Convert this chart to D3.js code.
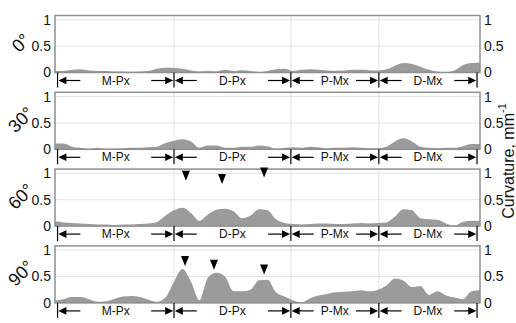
<!DOCTYPE html>
<html>
<head>
<meta charset="utf-8">
<script src="https://cdn.jsdelivr.net/npm/d3@7/dist/d3.min.js"></script>
<style>
  html, body { margin: 0; padding: 0; background: #fff; }
  svg { display: block; font-family: "Liberation Sans", Arial, sans-serif; }
</style>
</head>
<body>
<svg id="chart" width="516" height="323"></svg>
<script>
// ---------- data ----------
const positions = [0,2,4,6,8,10,12,14,16,18,20,22,24,26,28,30,32,34,36,38,40,42,44,46,48,50,52,54,56,58,60,62,64,66,68,70,72,74,76,78,80,82,84,86,88,90,92,94,96,98,100];

const curv0 = [0.03,0.03,0.05,0.06,0.04,0.03,0.03,0.02,0.02,0.015,0.02,0.03,0.07,0.09,0.085,0.07,0.04,0.02,0.03,0.02,0.05,0.03,0.045,0.03,0.01,0.03,0.06,0.07,0.03,0.05,0.06,0.05,0.04,0.035,0.04,0.05,0.05,0.045,0.04,0.06,0.13,0.18,0.16,0.11,0.05,0.02,0.01,0.04,0.14,0.18,0.19];
const curv30 = [0.11,0.11,0.05,0.03,0.01,0.03,0.01,0.01,0.02,0.03,0.03,0.04,0.05,0.12,0.16,0.19,0.15,0.03,0.07,0.07,0.03,0.03,0.05,0.05,0.07,0.06,0.01,0.03,0.04,0.03,0.05,0.04,0.02,0.03,0.03,0.04,0.03,0.02,0.02,0.05,0.15,0.21,0.15,0.05,0.03,0.02,0.03,0.03,0.06,0.1,0.1];
const curv60 = [0.09,0.07,0.06,0.05,0.04,0.03,0.03,0.02,0.03,0.03,0.04,0.05,0.08,0.2,0.3,0.35,0.25,0.1,0.22,0.31,0.33,0.28,0.15,0.2,0.32,0.3,0.13,0.06,0.04,0.03,0.04,0.05,0.05,0.04,0.04,0.05,0.06,0.05,0.06,0.07,0.18,0.32,0.3,0.15,0.13,0.12,0.05,0.01,0.08,0.1,0.1];
const curv90 = [0.04,0.07,0.11,0.11,0.07,0.02,0.03,0.08,0.12,0.13,0.11,0.06,0.02,0.1,0.4,0.64,0.4,0.05,0.48,0.57,0.5,0.22,0.22,0.25,0.43,0.44,0.2,0.12,0.05,0.01,0.09,0.14,0.17,0.2,0.21,0.22,0.24,0.22,0.25,0.33,0.46,0.42,0.3,0.32,0.15,0.22,0.14,0.1,0.07,0.22,0.24];

const angleLabels = ["0°", "30°", "60°", "90°"];
const regionNames = ["M-Px", "D-Px", "P-Mx", "D-Mx"];
const regionBounds = [0.6, 28, 55.5, 76.2, 99.3];
const yTicks = [0, 0.5, 1];
const yTickLabels = ["0", "0.5", "1"];

// peak markers: [position, value at tip]
const markers60Pos = [30.8, 39.3, 49.2];
const markers60Val = [0.86, 0.80, 0.92];
const markers90Pos = [30.6, 37.4, 49.2];
const markers90Val = [0.70, 0.63, 0.54];

const series = [curv0, curv30, curv60, curv90];
const markersPos = [[], [], markers60Pos, markers90Pos];
const markersVal = [[], [], markers60Val, markers90Val];

// ---------- layout ----------
const svg = d3.select("#chart");
const left = 55, right = 480;
const panelTop0 = 15.5, panelStep = 76.8, panelH = 57;

const x = d3.scaleLinear().domain([0, 100]).range([left, right]);

const fillCol = "#9b9b9b";
const frameCol = "#8f8f8f";
const gridCol = "#e2e2e2";

series.forEach((vals, i) => {
  const top = panelTop0 + i * panelStep;
  const bottom = top + panelH;
  const y = d3.scaleLinear().domain([0, 1.08]).range([bottom, top]);
  const g = svg.append("g");

  // grid
  g.selectAll("line.hg").data([0.5, 1]).join("line")
    .attr("x1", left).attr("x2", right)
    .attr("y1", d => y(d)).attr("y2", d => y(d))
    .attr("stroke", gridCol).attr("stroke-width", 1);
  g.selectAll("line.vg").data(regionBounds.slice(1, -1)).join("line")
    .attr("x1", d => x(d)).attr("x2", d => x(d))
    .attr("y1", top).attr("y2", bottom)
    .attr("stroke", gridCol).attr("stroke-width", 1);

  // area
  const data = positions.map((p, k) => [p, vals[k]]);
  const area = d3.area()
    .x(d => x(d[0])).y0(y(0)).y1(d => y(d[1]))
    .curve(d3.curveMonotoneX);
  g.append("path").datum(data).attr("d", area).attr("fill", fillCol);

  // frame
  g.append("rect").attr("x", left).attr("y", top)
    .attr("width", right - left).attr("height", panelH)
    .attr("fill", "none").attr("stroke", frameCol).attr("stroke-width", 1.5);

  // left axis
  const axL = d3.axisLeft(y).tickValues(yTicks).tickSize(0).tickPadding(4)
    .tickFormat((d, k) => yTickLabels[k]);
  const gl = g.append("g").attr("transform", `translate(${left},0)`).call(axL);
  gl.select(".domain").remove();
  gl.selectAll("text").attr("font-size", 14).attr("fill", "#111")
    .attr("font-family", "Liberation Sans, Arial, sans-serif");

  // right axis
  const axR = d3.axisRight(y).tickValues(yTicks).tickSize(0).tickPadding(4)
    .tickFormat((d, k) => yTickLabels[k]);
  const gr = g.append("g").attr("transform", `translate(${right},0)`).call(axR);
  gr.select(".domain").remove();
  gr.selectAll("text").attr("font-size", 14).attr("fill", "#111")
    .attr("font-family", "Liberation Sans, Arial, sans-serif");

  // angle label
  g.append("text")
    .attr("transform", `translate(21,${(top + bottom) / 2 - 1}) rotate(-45)`)
    .attr("text-anchor", "middle").attr("dominant-baseline", "central")
    .attr("font-size", 18).attr("fill", "#111")
    .text(angleLabels[i]);

  // markers
  markersPos[i].forEach((p, k) => {
    const tx = x(p), ty = y(markersVal[i][k]);
    g.append("path")
      .attr("d", `M${tx - 4},${ty - 10} L${tx + 4},${ty - 10} L${tx},${ty} Z`)
      .attr("fill", "#000");
  });

  // region arrows row
  const ay = bottom + 8;
  const ticks = regionBounds;
  g.selectAll("line.rt").data(ticks).join("line")
    .attr("x1", d => x(d)).attr("x2", d => x(d))
    .attr("y1", bottom).attr("y2", bottom + 15)
    .attr("stroke", "#000").attr("stroke-width", 1.2);

  regionNames.forEach((name, k) => {
    const x0 = x(regionBounds[k]) + 0.8, x1 = x(regionBounds[k + 1]) - 0.8;
    // left arrow
    g.append("line").attr("x1", x0 + 6).attr("x2", x0 + 22)
      .attr("y1", ay).attr("y2", ay).attr("stroke", "#000").attr("stroke-width", 1.2);
    g.append("path").attr("d", `M${x0},${ay} L${x0 + 8},${ay - 3.8} L${x0 + 8},${ay + 3.8} Z`).attr("fill", "#000");
    // right arrow
    g.append("line").attr("x1", x1 - 22).attr("x2", x1 - 6)
      .attr("y1", ay).attr("y2", ay).attr("stroke", "#000").attr("stroke-width", 1.2);
    g.append("path").attr("d", `M${x1},${ay} L${x1 - 8},${ay - 3.8} L${x1 - 8},${ay + 3.8} Z`).attr("fill", "#000");
    // label
    g.append("text").attr("x", (x0 + x1) / 2).attr("y", ay)
      .attr("text-anchor", "middle").attr("dominant-baseline", "central")
      .attr("font-size", 12).attr("fill", "#111").text(name);
  });
});

// right axis title
svg.append("text")
  .attr("transform", `translate(508,161) rotate(-90)`)
  .attr("text-anchor", "middle").attr("dominant-baseline", "central")
  .attr("font-size", 16).attr("fill", "#111")
  .html('Curvature, mm<tspan dy="-6" font-size="11">-1</tspan>');
</script>
</body>
</html>
